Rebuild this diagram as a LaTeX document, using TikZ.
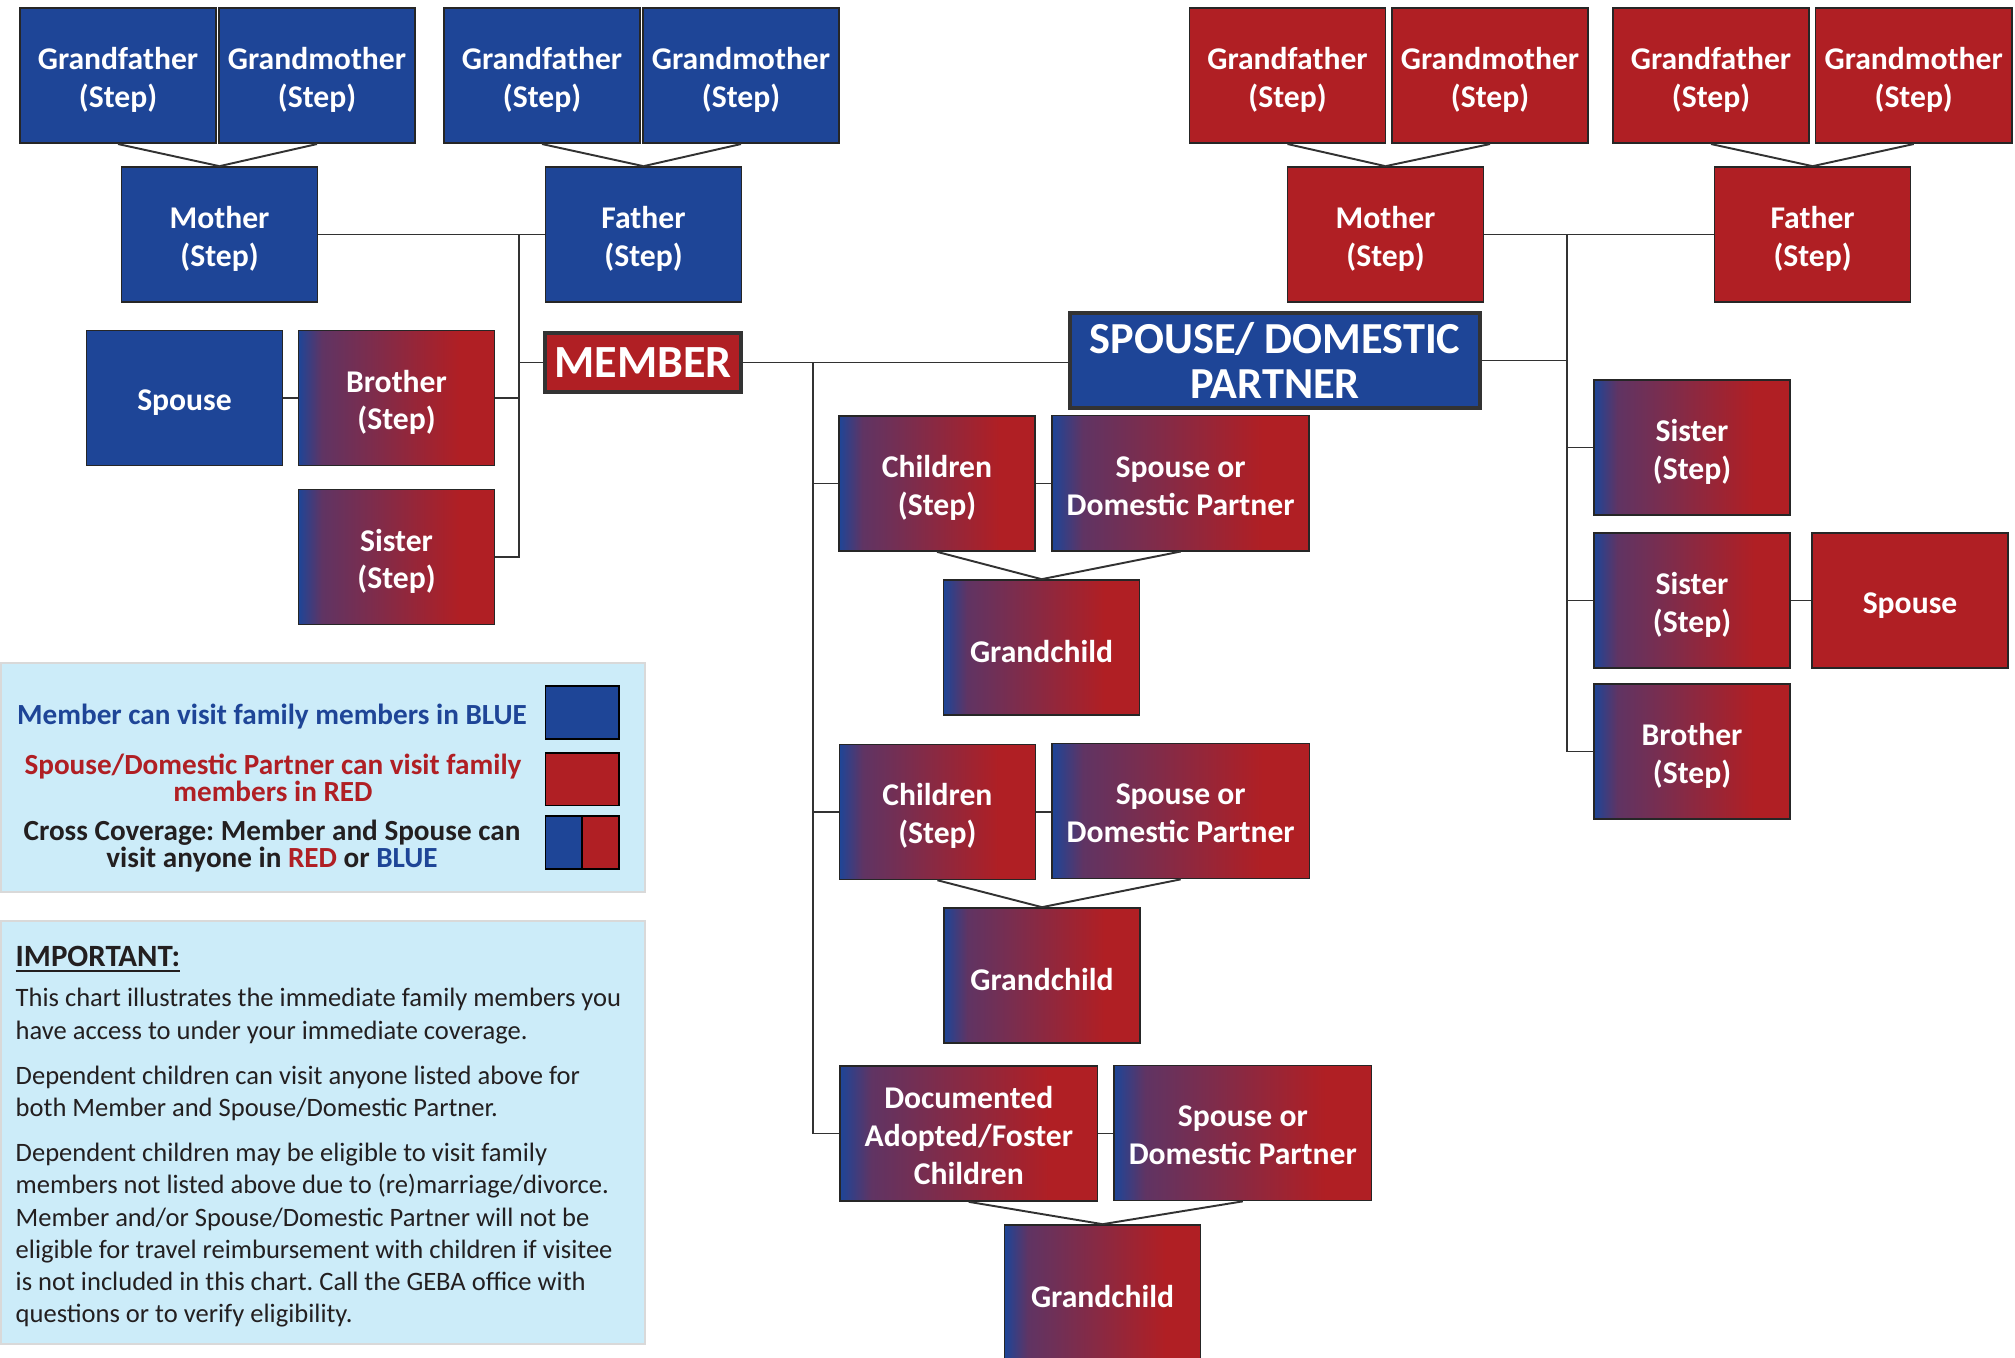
\documentclass[tikz,border=0pt]{standalone}
\usepackage{fontspec}
\setmainfont{Carlito}
\usetikzlibrary{calc}
\frenchspacing
\definecolor{cblue}{RGB}{30,69,151}
\definecolor{cred}{RGB}{176,31,36}
\definecolor{legfill}{RGB}{204,236,249}
\definecolor{linec}{RGB}{50,50,50}
\definecolor{ctext}{RGB}{35,31,32}
\colorlet{cmid}{cblue!55!cred}
\pgfdeclarehorizontalshading{bluered}{100bp}{color(0bp)=(cblue); color(25bp)=(cblue); color(31bp)=(cmid); color(66bp)=(cred); color(100bp)=(cred)}
\def\bxh{0pt}
\tikzset{
  bxh/.code={\def\bxh{#1}},
  bx/.style={minimum width=1.96cm, minimum height=1.35cm, inner sep=0pt, align=center,
     draw=black!85, line width=0.45pt, text=white, font=\fontsize{9}{10.8}\selectfont\bfseries,
     bxh=8.8pt, execute at begin node={\rule{0pt}{\bxh}}},
  l2/.style={bxh=19.6pt},
  l2s/.style={bxh=18.2pt},
  l3/.style={bxh=29.3pt},
  bl/.style={bx, fill=cblue},
  rd/.style={bx, fill=cred},
  gr/.style={bx, shading=bluered},
  wide/.style={minimum width=2.57cm},
  title/.style={draw=black!80, line width=1.1pt, bxh=0pt},
  conn/.style={draw=linec, line width=0.55pt},
  legtxt/.style={inner sep=0pt, align=center, font=\fontsize{8.3}{7.7}\selectfont\bfseries},
  swatch/.style={draw=black, line width=0.5pt, minimum height=0.527cm, inner sep=0pt},
  panel/.style={draw=black!15, line width=0.6pt, fill=legfill, inner sep=0pt, anchor=north west, minimum width=6.44cm}
}
\begin{document}
\begin{tikzpicture}[x=0.01cm, y=-0.01cm]
\useasboundingbox (0,0) rectangle (2015,1357);

% ---------- Member side (blue) ----------
\node[bl, l2] (gf1) at (118,75.7) {Grandfather\\(Step)};
\node[bl, l2] (gm1) at (317,75.7) {Grandmother\\(Step)};
\node[bl, l2] (gf2) at (542,75.7) {Grandfather\\(Step)};
\node[bl, l2] (gm2) at (741,75.7) {Grandmother\\(Step)};
\node[bl, l2] (mothL) at (219.5,234.5) {Mother\\(Step)};
\node[bl, l2] (fathL) at (643.5,234.5) {Father\\(Step)};
\node[rd, title, minimum height=0.59cm, font=\fontsize{13.1}{13}\selectfont\bfseries] (member) at (643,362.5) {MEMBER};
\node[bl] (spL) at (184.5,398) {Spouse};
\node[gr, l2] (broL) at (396.5,398) {Brother\\(Step)};
\node[gr, l2] (sisL) at (396.5,557) {Sister\\(Step)};

% ---------- Spouse side (red) ----------
\node[rd, l2] (rgf1) at (1287.5,75.7) {Grandfather\\(Step)};
\node[rd, l2] (rgm1) at (1490,75.7) {Grandmother\\(Step)};
\node[rd, l2] (rgf2) at (1711,75.7) {Grandfather\\(Step)};
\node[rd, l2] (rgm2) at (1913.7,75.7) {Grandmother\\(Step)};
\node[rd, l2] (mothR) at (1385.5,234.5) {Mother\\(Step)};
\node[rd, l2] (fathR) at (1812.6,234.5) {Father\\(Step)};
\node[bl, title, minimum width=4.1cm, minimum height=0.95cm, font=\fontsize{12.6}{13}\selectfont\bfseries] (sdp) at (1275,360.5) {SPOUSE/ DOMESTIC\\PARTNER};
\node[gr, l2] (sis1R) at (1692,447.5) {Sister\\(Step)};
\node[gr, l2] (sis2R) at (1692,600.5) {Sister\\(Step)};
\node[rd] (spR) at (1910,600.5) {Spouse};
\node[gr, l2] (broR) at (1692,751.5) {Brother\\(Step)};

% ---------- Children ----------
\node[gr, l2] (ch1) at (937,483.5) {Children\\(Step)};
\node[gr, wide, l2s] (sp1) at (1180.6,483.2) {Spouse or\\Domestic Partner};
\node[gr] (gc1) at (1041.6,647.5) {Grandchild};
\node[gr, l2] (ch2) at (937.4,811.9) {Children\\(Step)};
\node[gr, wide, l2s] (sp2) at (1180.7,811) {Spouse or\\Domestic Partner};
\node[gr] (gc2) at (1042,975.5) {Grandchild};
\node[gr, wide, l3] (doc) at (968.8,1133.5) {Documented\\Adopted/Foster\\Children};
\node[gr, wide, l2s] (sp3) at (1242.8,1133) {Spouse or\\Domestic Partner};
\node[gr] (gc3) at (1102.6,1292.5) {Grandchild};

% ---------- connectors ----------
\foreach \a/\b in {gf1/mothL, gm1/mothL, gf2/fathL, gm2/fathL, rgf1/mothR, rgm1/mothR, rgf2/fathR, rgm2/fathR,
                   ch1/gc1, sp1/gc1, ch2/gc2, sp2/gc2, doc/gc3, sp3/gc3}
  \draw[conn] (\a.south) -- (\b.north);
\draw[conn] (mothL.east) -- (fathL.west);
\draw[conn] (mothR.east) -- (fathR.west);

% left trunk
\coordinate (tL) at (519,234.5);
\draw[conn] (tL) |- (sisL.east);
\draw[conn] (member.west) -- (member.west -| tL);
\draw[conn] (broL.east) -- (broL.east -| tL);
\draw[conn] (spL.east) -- (broL.west);

% middle trunk
\coordinate (tM) at (813,362.5);
\draw[conn] (member.east) -- (member.east -| sdp.west);
\draw[conn] (tM) |- (doc.west);
\draw[conn] (ch1.west) -- (ch1.west -| tM);
\draw[conn] (ch2.west) -- (ch2.west -| tM);
\draw[conn] (ch1.east) -- (ch1.east -| sp1.west);
\draw[conn] (ch2.east) -- (ch2.east -| sp2.west);
\draw[conn] (doc.east) -- (doc.east -| sp3.west);

% right trunk
\coordinate (tR) at (1566.7,234.5);
\draw[conn] (tR) |- (broR.west);
\draw[conn] (sdp.east) -- (sdp.east -| tR);
\draw[conn] (sis1R.west) -- (sis1R.west -| tR);
\draw[conn] (sis2R.west) -- (sis2R.west -| tR);
\draw[conn] (sis2R.east) -- (spR.west);

% ---------- legend ----------
\node[panel, minimum height=2.29cm] (legend) at (0,661.7) {};
\node[swatch, fill=cblue, minimum width=0.732cm] (swB) at (582.1,712.3) {};
\node[swatch, fill=cred, minimum width=0.732cm] (swR) at (582.1,779) {};
\node[swatch, fill=cblue, minimum width=0.365cm] (swX1) at (563.8,842.3) {};
\node[swatch, fill=cred, minimum width=0.367cm] (swX2) at (600.4,842.3) {};
\node[legtxt, text=cblue] (lt1) at (272,717) {Member can visit family members in BLUE};
\node[legtxt, text=cred] (lt2) at (273,778) {Spouse/Domestic Partner can visit family\\members in RED};
\node[legtxt, text=ctext] (lt3) at (272,846) {Cross Coverage: Member and Spouse can\\visit anyone in \textcolor{cred}{RED} or \textcolor{cblue}{BLUE}};

% ---------- important ----------
\node[panel, minimum height=4.23cm] (imp) at (0,920) {};
\node[anchor=north west, inner sep=0pt, align=left, text=ctext, font=\fontsize{7.55}{9.15}\selectfont] (imptext) at (15,945)
 {{\fontsize{8.8}{9.1}\selectfont\bfseries\underline{IMPORTANT:}}\\[2.5pt]
  This chart illustrates the immediate family members you\\
  have access to under your immediate coverage.\\[3.7pt]
  Dependent children can visit anyone listed above for\\
  both Member and Spouse/Domestic Partner.\\[3.7pt]
  Dependent children may be eligible to visit family\\
  members not listed above due to (re)marriage/divorce.\\
  Member and/or Spouse/Domestic Partner will not be\\
  eligible for travel reimbursement with children if visitee\\
  is not included in this chart. Call the GEBA office with\\
  questions or to verify eligibility.};
\end{tikzpicture}
\end{document}
